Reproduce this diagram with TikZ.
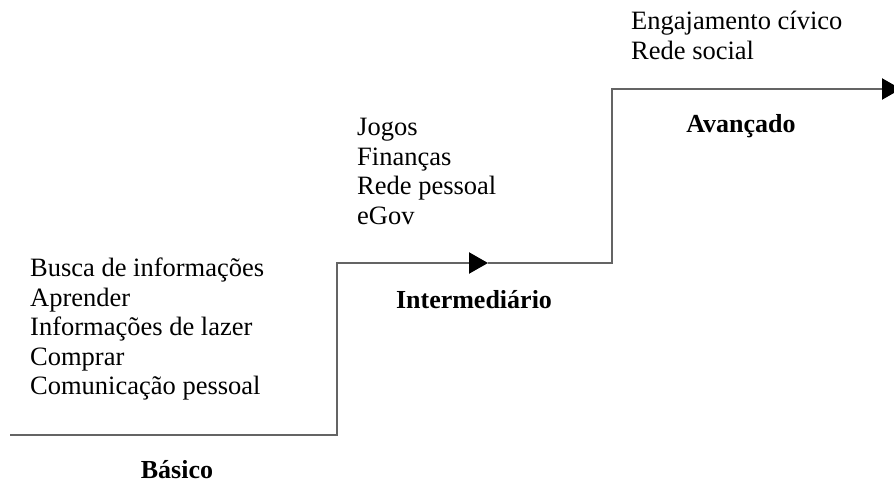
\documentclass[tikz,border=0pt]{standalone}
\usepackage{fontspec}
\setmainfont{Liberation Serif}
\usetikzlibrary{arrows.meta,positioning}
\definecolor{stairgray}{RGB}{100,100,100}
\begin{document}
\begin{tikzpicture}[x=1pt,y=-1pt]
                \tikzstyle{every node}+=[inner sep=0pt]
                \tikzstyle{uses}=[font=\fontsize{26.5}{29.5}\selectfont, align=left, anchor=north west]
                \tikzstyle{level}=[font=\fontsize{26}{29.5}\selectfont\bfseries, anchor=base]
                \tikzstyle{stair}=[draw=stairgray, line width=2.2pt]
                \tikzstyle{tip}=[-{Triangle[length=19pt,width=21pt,color=black]}]
                \useasboundingbox (0,0) rectangle (894,482);
                \coordinate (s0) at (10,435);
                \coordinate (s1) at (337,435);
                \coordinate (s2) at (337,263);
                \coordinate (m1) at (488,263);
                \coordinate (s3) at (612,263);
                \coordinate (s4) at (612,89);
                \coordinate (s5) at (901,89);
                \draw [stair, tip] (s0) -- (s1) -- (s2) -- (m1);
                \draw [stair, tip] (m1) -- (s3) -- (s4) -- (s5);
                \node [uses] (basicuses) at (30,258) {Busca de informações\\Aprender\\Informações de lazer\\Comprar\\Comunicação pessoal};
                \node [uses] (interuses) at (357,118) {Jogos\\Finanças\\Rede pessoal\\eGov};
                \node [uses] (advuses) at (631,11) {Engajamento cívico\\Rede social};
                \node [level] (basic) at (177,478) {Básico};
                \node [level] (inter) at (474,308) {Intermediário};
                \node [level] (adv) at (741,132) {Avançado};
            \end{tikzpicture}
\end{document}
